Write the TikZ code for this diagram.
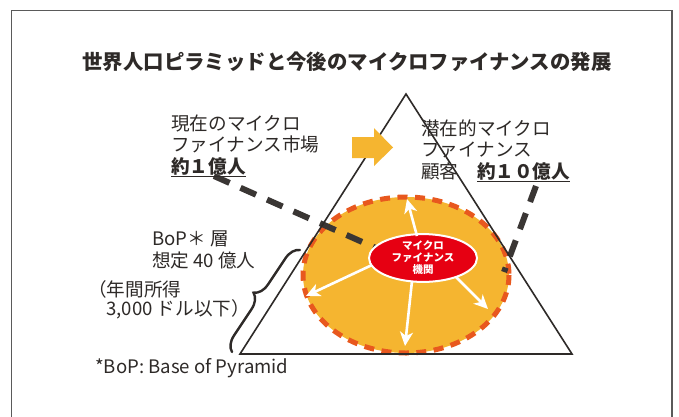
\documentclass[tikz,border=0pt]{standalone}
\usepackage{fontspec}
\setmainfont{Noto Sans CJK JP}
\usetikzlibrary{arrows.meta,decorations.pathreplacing,shapes.geometric}
\definecolor{ink}{HTML}{2E2A28}
\definecolor{fillor}{HTML}{F5B530}
\definecolor{dashor}{HTML}{E8581E}
\definecolor{mfired}{HTML}{E60012}
\definecolor{darkdash}{HTML}{3A3634}
\definecolor{framegray}{HTML}{5A5A5A}
\tikzset{
  txt/.style={inner sep=0pt, text=ink, font=\fontsize{18.6}{21.2}\selectfont, align=left},
  darkdashed/.style={draw=darkdash, line width=6pt, dash pattern=on 17pt off 12pt},
  whitearrow/.style={draw=white, line width=2.6pt, -{Stealth[length=14pt,width=13pt,inset=4pt]}},
}
\begin{document}
\begin{tikzpicture}[x=1pt,y=-1pt]
\useasboundingbox (0,0) rectangle (679,416);
\fill[white] (0,0) rectangle (679,416);
% frame
\draw[framegray, line width=1.3pt] (11.5,430) -- (11.5,10.5) -- (672,10.5) -- (672,430);
% title
\node[inner sep=0pt, text=ink, font=\fontsize{20.4}{24}\selectfont\bfseries] (title) at (347,62) {世界人口ピラミッドと今後のマイクロファイナンスの発展};
% pyramid
\coordinate (bl) at (240,354);
\coordinate (br) at (572,354);
\coordinate (top) at (406,94);
% orange ellipse
\fill[fillor] (406,275) ellipse [x radius=103, y radius=78];
\draw[dashor, line width=5pt, dash pattern=on 10pt off 7.5pt] (406,275) ellipse [x radius=103, y radius=78];
% dark dashed lines
\coordinate (d1s) at (214,176);
\coordinate (d1e) at (378,249);
\coordinate (d2s) at (536,186);
\coordinate (d2e) at (504,272);
\draw[darkdashed] (d1s) -- (d1e);
\draw[darkdashed] (d2s) -- (d2e);
% triangle
\draw[ink, line width=1.6pt, line join=miter] (bl) -- (top) -- (br) -- cycle;
% MFI node
\node[ellipse, fill=mfired, draw=white, line width=2pt, minimum width=108pt, minimum height=46pt, inner sep=0pt, text=white, align=center, font=\fontsize{10.5}{12}\selectfont\bfseries] (mfi) at (423,258) {マイクロ\\ファイナンス\\機関};
% white arrows
\coordinate (a1) at (407,199);
\coordinate (a2) at (306,296);
\coordinate (a3) at (405,346);
\coordinate (a4) at (488,309);
\draw[whitearrow] (417,236) -- (a1);
\draw[whitearrow] (372,265) -- (a2);
\draw[whitearrow] (412,281) -- (a3);
\draw[whitearrow] (456,277) -- (a4);
% orange block arrow
\fill[fillor] (352,137) -- (374,137) -- (374,128) -- (393,147.5) -- (374,166) -- (374,158) -- (352,158) -- cycle;
% texts
\node[txt, anchor=west] (cur) at (171,146) {現在のマイクロ\\ファイナンス市場\\\textbf{\underline{約１億人}}};
\node[txt, anchor=west] (pot) at (421,151) {潜在的マイクロ\\ファイナンス\\顧客\hspace{1em}\textbf{\underline{約１０億人}}};
\node[txt, anchor=west] (bop) at (152,250) {BoP＊ 層\\想定 40 億人};
\node[txt, anchor=west] (inc1) at (88,289) {（年間所得};
\node[txt, anchor=west] (inc2) at (106,309) {3,000 ドル以下）};
\node[txt, anchor=west] (foot) at (95,368) {*BoP: Base of Pyramid};
% brace
\coordinate (brb) at (232,352);
\coordinate (brt) at (300,250);
\draw[ink, line width=2.4pt, line cap=round, decorate, decoration={brace, amplitude=15pt}] (brb) -- (brt);
\end{tikzpicture}
\end{document}
